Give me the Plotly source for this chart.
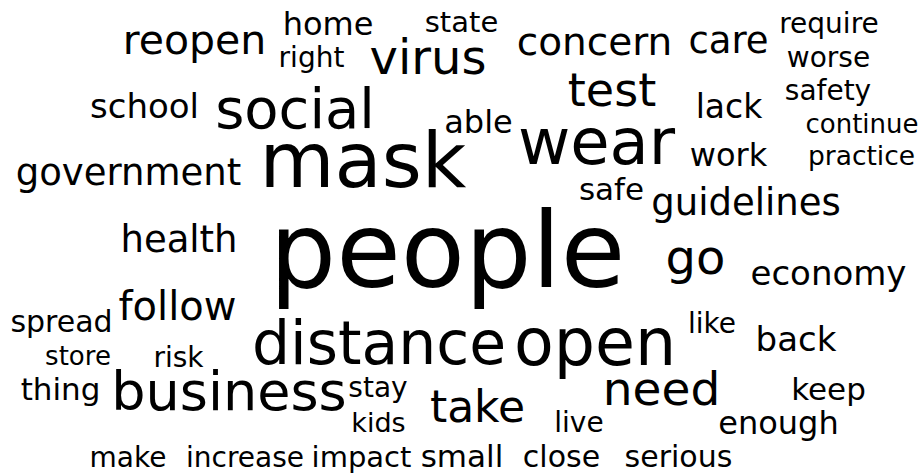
import plotly.graph_objects as go

# Word cloud data: words and their weights (weight -> font size in px)
words = ["people", "mask", "wear", "open", "distance", "social", "business", "virus",
         "need", "test", "take", "go", "reopen", "follow", "concern", "care",
         "guidelines", "health", "government", "economy", "lack", "school", "work",
         "back", "home", "enough", "keep", "thing", "able", "safe", "spread", "small",
         "close", "serious", "state", "increase", "impact", "make", "stay", "safety",
         "require", "worse", "right", "risk", "continue", "practice", "store", "kids",
         "live", "like"]
weights = [105, 77, 64, 65, 60, 56, 54, 48,
           47, 46, 44, 48, 41, 40, 39, 37,
           37, 37, 37, 34, 33, 34, 32,
           34, 32, 32, 31, 31, 32, 31, 30, 31,
           30, 30, 29, 28, 29, 28, 28, 28,
           28, 28, 28, 28, 26, 26.5, 26, 27,
           28, 28]

# Word-cloud placement (horizontal centre, text baseline) in page pixels
placement_x = [447.5, 363, 596.5, 595, 379, 295, 229, 428,
               661.5, 612, 477.5, 695.5, 194.5, 177.5, 594.5, 728.5,
               746, 179, 128.5, 828.5, 729, 144.5, 728.5,
               796, 328, 778.5, 828.5, 60.5, 478.5, 611.5, 61.5, 462,
               561.5, 678.5, 461.5, 245, 361.5, 128, 378, 828,
               829, 828.5, 311.5, 178.5, 862, 861.5, 78, 378.5,
               579, 712]
placement_baseline = [287, 187, 164, 365, 364, 128, 410, 74,
                      405, 106, 422, 274, 54, 320, 55, 53,
                      215, 252, 185, 285, 118, 118, 166,
                      351, 35, 434, 400, 400, 133, 200, 332, 467,
                      467, 467, 32, 467, 467, 467, 397, 100,
                      33, 67, 67, 367, 133, 165, 365, 432,
                      432, 333]

W, H = 923, 474
# plotly 'middle center' text puts the baseline 0.25*fontsize below the anchor
ys = [b - 0.25 * s for b, s in zip(placement_baseline, weights)]

fig = go.Figure(go.Scatter(
    x=placement_x, y=ys, text=words, mode="text",
    textposition="middle center",
    textfont=dict(family="DejaVu Sans", size=weights, color="black"),
    hoverinfo="text",
    cliponaxis=False,
))
fig.update_layout(
    width=W, height=H,
    margin=dict(l=0, r=0, t=0, b=0),
    paper_bgcolor="white", plot_bgcolor="white",
    showlegend=False,
    xaxis=dict(range=[0, W], visible=False, fixedrange=True),
    yaxis=dict(range=[H, 0], visible=False, fixedrange=True),
)
fig.write_html(
    "out.html",
    config={"displayModeBar": False},
    post_script="document.body.style.margin='0';document.body.style.overflow='hidden';",
)
